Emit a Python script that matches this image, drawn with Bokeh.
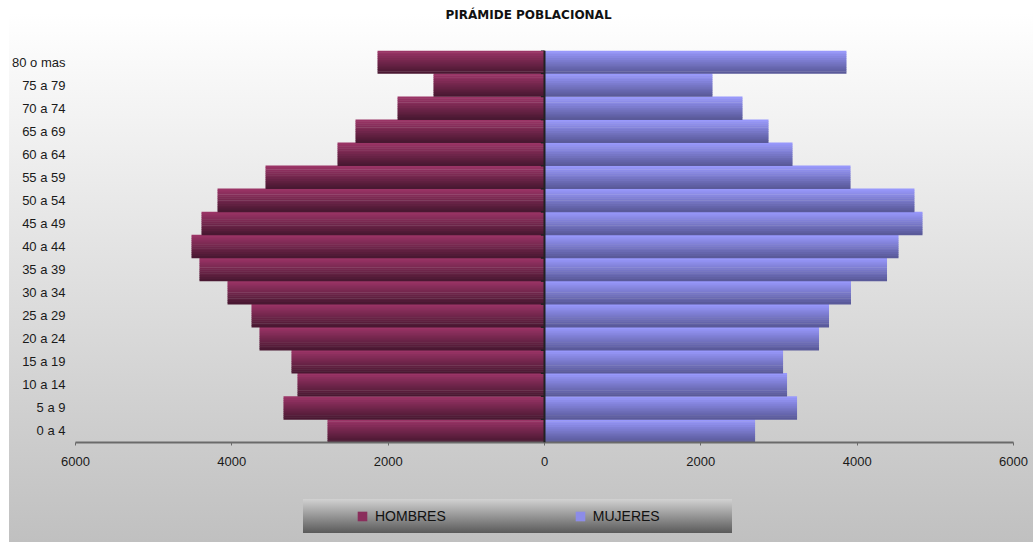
from bokeh.plotting import figure
from bokeh.layouts import column
from bokeh.models import (Range1d, FactorRange, FixedTicker, Span, Legend, LegendItem,
                          ColumnDataSource, GlobalInlineStyleSheet)
from bokeh.transform import dodge
from bokeh.embed import file_html
from bokeh.resources import INLINE

# ---- data (bottom to top) ----
categories = ["0 a 4", "5 a 9", "10 a 14", "15 a 19", "20 a 24", "25 a 29", "30 a 34",
              "35 a 39", "40 a 44", "45 a 49", "50 a 54", "55 a 59", "60 a 64", "65 a 69",
              "70 a 74", "75 a 79", "80 o mas"]
hombres = [2776, 3339, 3160, 3237, 3646, 3748, 4055, 4414, 4516, 4388, 4183, 3569, 2648,
           2418, 1880, 1420, 2136]
mujeres = [2694, 3231, 3103, 3052, 3512, 3640, 3921, 4382, 4529, 4836, 4733, 3915, 3173,
           2866, 2533, 2149, 3863]
series_names = ["HOMBRES", "MUJERES"]
x_ticks = [-6000, -4000, -2000, 0, 2000, 4000, 6000]
x_tick_labels = ["6000", "4000", "2000", "0", "2000", "4000", "6000"]
title_text = "PIRÁMIDE POBLACIONAL"

source = ColumnDataSource(dict(cat=categories,
                               hombres_neg=[-v for v in hombres],
                               mujeres=mujeres,
                               zero=[0] * len(categories)))

css = """
html { background:
  linear-gradient(to bottom, #d2d2d2, #5a5a5a) 303px 499px / 429px 34px no-repeat,
  linear-gradient(to bottom, #ffffff, #c0c0c0) 9px 13px / 1024px 529px no-repeat,
  #ffffff; }
body { background: transparent; }
"""

W = 1033
H_TITLE, H_MAIN, H_LEG = 40, 432, 70
BL, BR = 75, 20


def transparent(fig):
    fig.border_fill_alpha = 0
    fig.background_fill_alpha = 0
    fig.outline_line_color = None
    fig.grid.visible = False


# ---- title strip ----
t = figure(width=W, height=H_TITLE, output_backend="svg", toolbar_location=None,
           x_range=Range1d(0, 1), y_range=Range1d(0, 1),
           x_axis_location=None, y_axis_location=None,
           min_border_left=BL, min_border_right=BR, min_border_top=25, min_border_bottom=0,
           title=title_text)
transparent(t)
t.stylesheets = [GlobalInlineStyleSheet(css=css)]
t.title.text_font = "DejaVu Sans"
t.title.text_font_size = "12px"
t.title.text_font_style = "bold"
t.title.text_color = "#111111"
t.title.align = "left"
t.title.offset = 370
t.title.standoff = 10

# ---- main chart ----
p = figure(width=W, height=H_MAIN, output_backend="svg", toolbar_location=None,
           x_range=Range1d(-6000, 6000), y_range=FactorRange(factors=categories),
           min_border_left=BL, min_border_right=BR, min_border_top=10, min_border_bottom=30)
transparent(p)


def lerp(c1, c2, f):
    a = [int(c1[i:i + 2], 16) for i in (1, 3, 5)]
    b = [int(c2[i:i + 2], 16) for i in (1, 3, 5)]
    return "#%02x%02x%02x" % tuple(round(a[k] + (b[k] - a[k]) * f) for k in range(3))


# gradient bars made of horizontal strips
N = 12
h_top, h_bot = "#9a3466", "#4a1832"
m_top, m_bot = "#9898fb", "#5a5a9a"
for i in range(N):
    f = i / (N - 1)
    off = 0.5 - (i + 0.5) / N
    yy = dodge("cat", off, range=p.y_range)
    p.hbar(y=yy, left="hombres_neg", right="zero", height=1.0 / N + 0.02,
           source=source, fill_color=lerp(h_top, h_bot, f), line_color=None)
    p.hbar(y=yy, left="zero", right="mujeres", height=1.0 / N + 0.02,
           source=source, fill_color=lerp(m_top, m_bot, f), line_color=None)

# zero line with category tick marks
p.add_layout(Span(location=0, dimension="height", line_color="#222222", line_width=2))
p.segment(x0=-45, x1=0, y0=dodge("cat", -0.5, range=p.y_range),
          y1=dodge("cat", -0.5, range=p.y_range), source=source,
          line_color="#222222", line_width=1)
p.segment(x0=-45, x1=0, y0=dodge("cat", 0.5, range=p.y_range),
          y1=dodge("cat", 0.5, range=p.y_range), source=source,
          line_color="#222222", line_width=1)

xa = p.xaxis[0]
xa.ticker = FixedTicker(ticks=x_ticks)
xa.major_label_overrides = {tk: lb for tk, lb in zip(x_ticks, x_tick_labels)}
xa.axis_line_color = "#6a6a6a"
xa.axis_line_width = 2
xa.major_tick_line_color = "#6a6a6a"
xa.major_tick_out = 3
xa.major_tick_in = 0
xa.minor_tick_line_color = None
xa.major_label_text_font = "Liberation Sans"
xa.major_label_text_font_size = "13px"
xa.major_label_text_color = "#1a1a1a"
xa.major_label_standoff = 11

ya = p.yaxis[0]
ya.axis_line_color = None
ya.major_tick_line_color = None
ya.major_tick_out = 0
ya.major_tick_in = 0
ya.minor_tick_line_color = None
ya.major_label_text_font = "Liberation Sans"
ya.major_label_text_font_size = "13px"
ya.major_label_text_color = "#1a1a1a"
ya.major_label_standoff = 10

# ---- legend strip ----
q = figure(width=W, height=H_LEG, output_backend="svg", toolbar_location=None,
           x_range=Range1d(0, 1), y_range=Range1d(0, 1),
           x_axis_location=None, y_axis_location=None,
           min_border_left=BL, min_border_right=BR, min_border_top=0, min_border_bottom=0)
transparent(q)
# legend-key renderers: their single bar lies outside the visible ranges
key = ColumnDataSource(dict(y=[-10], left=[5], right=[6]))
r_h = q.hbar(y="y", left="left", right="right", height=0.1, source=key,
             fill_color=lerp(h_top, h_bot, 0.2), line_color=None)
r_m = q.hbar(y="y", left="left", right="right", height=0.1, source=key,
             fill_color=lerp(m_top, m_bot, 0.2), line_color=None)
legend = Legend(items=[LegendItem(label=series_names[0], renderers=[r_h]),
                       LegendItem(label=series_names[1], renderers=[r_m])],
                orientation="horizontal", location=(281, 18),
                background_fill_alpha=0, border_line_color=None,
                label_text_font="Liberation Sans", label_text_font_size="14px",
                label_text_color="#111111",
                glyph_width=12, glyph_height=12, label_standoff=7, spacing=128,
                padding=5, margin=0)
q.add_layout(legend, "center")

layout = column(t, p, q, spacing=0)
open("out.html", "w").write(file_html(layout, INLINE))
